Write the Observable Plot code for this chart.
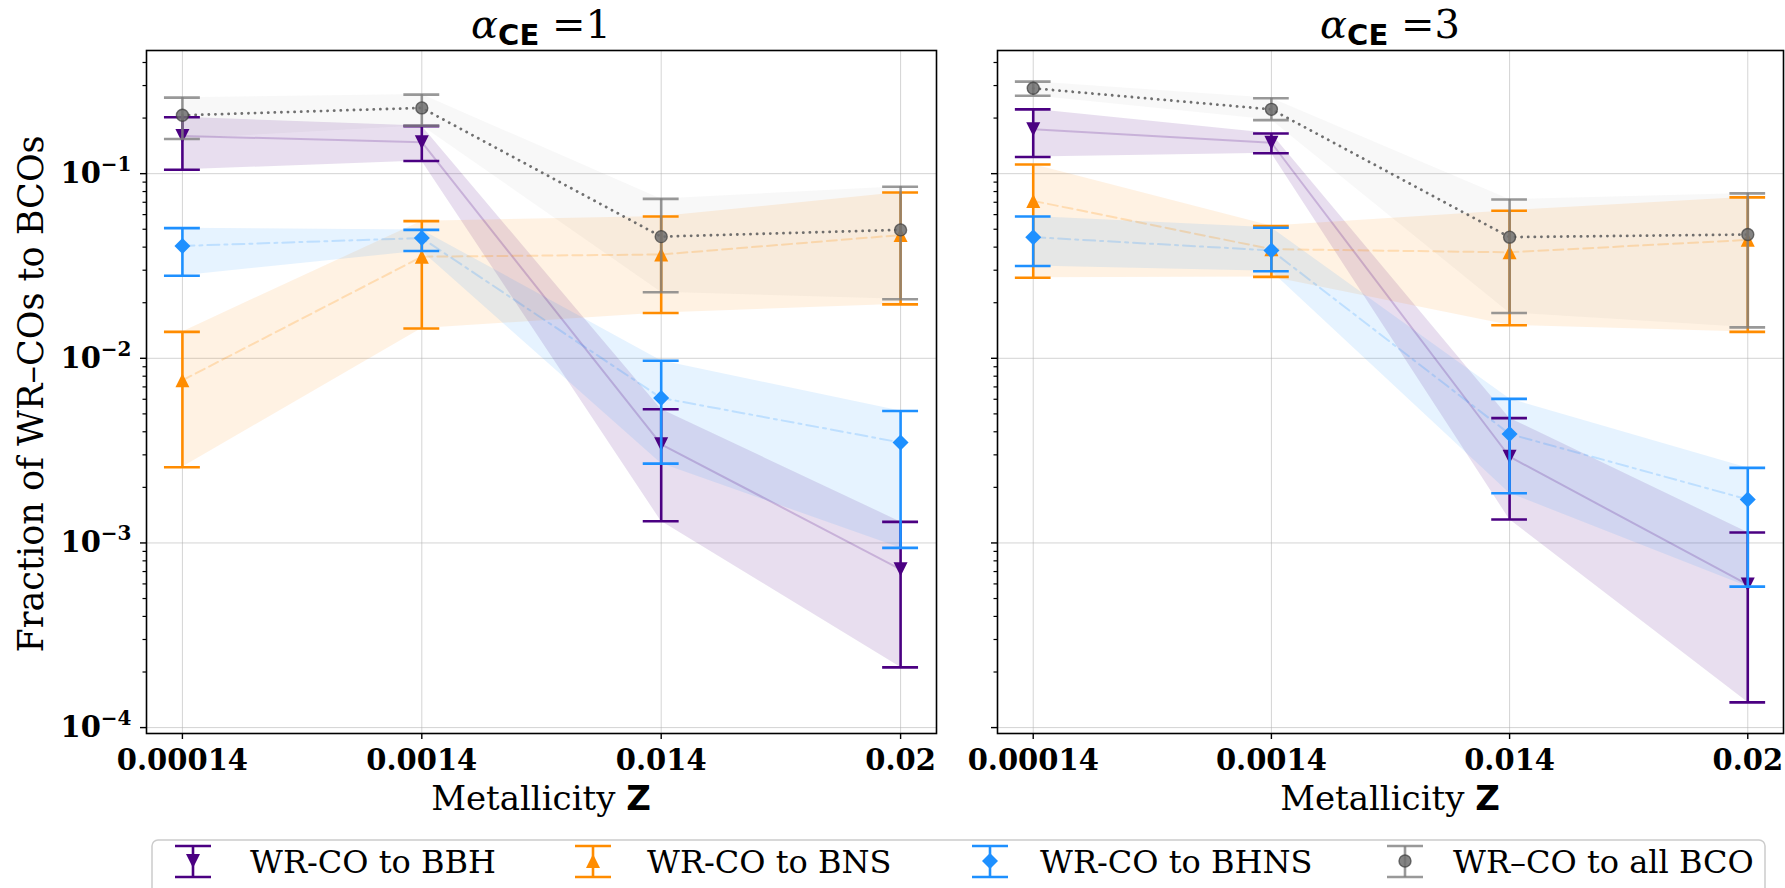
<!DOCTYPE html>
<html>
<head>
<meta charset="utf-8">
<script src="https://cdn.jsdelivr.net/npm/d3@7"></script>
<script src="https://cdn.jsdelivr.net/npm/@observablehq/plot@0.6"></script>
<style>
  html, body { margin: 0; padding: 0; background: #fff; }
  #root { position: relative; width: 1785px; height: 888px; overflow: hidden; background: #fff; }
  .panel { position: absolute; top: 0; }
  #overlay { position: absolute; left: 0; top: 0; }
</style>
</head>
<body>
<div id="root"></div>
<script>
// ---------------- DATA ----------------
const Z_LABELS = ["0.00014", "0.0014", "0.014", "0.02"];
const Y_TICKS = [1e-4, 1e-3, 1e-2, 1e-1];
const PANEL_TITLES = ["1", "3"];   // alpha_CE values
const LEGEND_LABELS = ["WR-CO to BBH", "WR-CO to BNS", "WR-CO to BHNS", "WR\u2013CO to all BCO"];

// alpha_CE = 1
const bbh1   = [0.160, 0.148, 0.00342, 0.00072];
const bbh1Lo = [0.105, 0.117, 0.00131, 0.000212];
const bbh1Hi = [0.202, 0.181, 0.0053, 0.0013];
const bns1   = [0.0076, 0.0355, 0.0365, 0.0465];
const bns1Lo = [0.00257, 0.0145, 0.0176, 0.0196];
const bns1Hi = [0.0139, 0.0553, 0.0586, 0.079];
const bhns1   = [0.0406, 0.0448, 0.0061, 0.0035];
const bhns1Lo = [0.028, 0.0381, 0.00269, 0.00094];
const bhns1Hi = [0.0507, 0.0496, 0.0097, 0.00518];
const all1   = [0.207, 0.227, 0.0456, 0.0496];
const all1Lo = [0.154, 0.182, 0.0228, 0.0209];
const all1Hi = [0.258, 0.268, 0.073, 0.085];

// alpha_CE = 3
const bbh3   = [0.174, 0.147, 0.00293, 0.000595];
const bbh3Lo = [0.123, 0.129, 0.00134, 0.000137];
const bbh3Hi = [0.223, 0.165, 0.00474, 0.00114];
const bns3   = [0.0712, 0.039, 0.0375, 0.0438];
const bns3Lo = [0.0273, 0.0276, 0.0151, 0.0139];
const bns3Hi = [0.112, 0.052, 0.063, 0.0744];
const bhns3   = [0.0453, 0.0384, 0.00389, 0.00172];
const bhns3Lo = [0.0316, 0.0296, 0.00186, 0.00058];
const bhns3Hi = [0.0586, 0.0509, 0.00603, 0.00255];
const all3   = [0.290, 0.223, 0.0453, 0.0468];
const all3Lo = [0.264, 0.195, 0.0176, 0.0147];
const all3Hi = [0.315, 0.256, 0.0724, 0.0782];

// ---------------- STYLE ----------------
const C_BBH = "#4B0082", C_BNS = "#FF8C00", C_BHNS = "#1E90FF", C_ALL = "#808080";
const Y_DOMAIN = [Math.pow(10, -4.032), Math.pow(10, -0.333)];
const X_DOMAIN = [-0.15, 3.15];
const CAP = 0.075;

const rows = (mid, lo, hi) => Z_LABELS.map((z, i) => ({i, z, mid: mid[i], lo: lo[i], hi: hi[i]}));

// custom marker symbols (matplotlib-like)
const triDown = {draw(ctx, size) { const w = 2 * Math.sqrt(size / Math.PI); const h = w; ctx.moveTo(-w/2, -h/2); ctx.lineTo(w/2, -h/2); ctx.lineTo(0, h/2); ctx.closePath(); }};
const triUp = {draw(ctx, size) { const w = 2 * Math.sqrt(size / Math.PI); const h = w; ctx.moveTo(-w/2, h/2); ctx.lineTo(w/2, h/2); ctx.lineTo(0, -h/2); ctx.closePath(); }};
const diamond = {draw(ctx, size) { const r = Math.sqrt(size / Math.PI); ctx.moveTo(0, -r); ctx.lineTo(r, 0); ctx.lineTo(0, r); ctx.lineTo(-r, 0); ctx.closePath(); }};

// minor ticks on the log axis
const MINOR = [];
for (let e = -5; e <= 0; e++) for (let m = 2; m <= 9; m++) {
  const v = m * Math.pow(10, e);
  if (v >= Y_DOMAIN[0] && v <= Y_DOMAIN[1]) MINOR.push(v);
}

function errorMarks(data, color, symbol, r, extra = {}) {
  const op = extra.opacity ?? 1;
  return [
    Plot.ruleX(data, {x: "i", y1: "lo", y2: "hi", stroke: color, strokeWidth: 2.6, strokeOpacity: op}),
    Plot.ruleY(data, {y: "lo", x1: d => d.i - CAP, x2: d => d.i + CAP, stroke: color, strokeWidth: 2.6, strokeOpacity: op}),
    Plot.ruleY(data, {y: "hi", x1: d => d.i - CAP, x2: d => d.i + CAP, stroke: color, strokeWidth: 2.6, strokeOpacity: op}),
    Plot.dot(data, {x: "i", y: "mid", symbol, r, fill: extra.fill ?? color, fillOpacity: extra.fillOpacity ?? 1,
      stroke: extra.stroke ?? "none", strokeWidth: extra.strokeWidth ?? 0, strokeOpacity: extra.strokeOpacity ?? 1})
  ];
}

function makePanel(S, showYLabels, width, marginLeft, marginRight) {
  const bbh = rows(...S.bbh), bns = rows(...S.bns), bhns = rows(...S.bhns), all = rows(...S.all);
  const plot = Plot.plot({
    width, height: 840,
    marginTop: 50, marginBottom: 107, marginLeft, marginRight,
    style: {fontFamily: "DejaVu Serif", fontSize: "29px", fontWeight: "bold", background: "transparent", overflow: "visible", color: "black"},
    x: {domain: X_DOMAIN},
    y: {type: "log", domain: Y_DOMAIN},
    marks: [
      Plot.gridX({ticks: [0, 1, 2, 3], stroke: "#b0b0b0", strokeOpacity: 0.55, strokeWidth: 1}),
      Plot.gridY({ticks: Y_TICKS, stroke: "#b0b0b0", strokeOpacity: 0.55, strokeWidth: 1}),
      // shaded bands
      Plot.areaY(all, {x: "i", y1: "lo", y2: "hi", fill: C_ALL, fillOpacity: 0.06}),
      Plot.areaY(bbh, {x: "i", y1: "lo", y2: "hi", fill: C_BBH, fillOpacity: 0.13}),
      Plot.areaY(bns, {x: "i", y1: "lo", y2: "hi", fill: C_BNS, fillOpacity: 0.11}),
      Plot.areaY(bhns, {x: "i", y1: "lo", y2: "hi", fill: C_BHNS, fillOpacity: 0.11}),
      // central lines
      Plot.lineY(bbh, {x: "i", y: "mid", stroke: C_BBH, strokeOpacity: 0.2, strokeWidth: 2}),
      Plot.lineY(bns, {x: "i", y: "mid", stroke: C_BNS, strokeOpacity: 0.22, strokeWidth: 2, strokeDasharray: "10,5"}),
      Plot.lineY(bhns, {x: "i", y: "mid", stroke: C_BHNS, strokeOpacity: 0.2, strokeWidth: 2, strokeDasharray: "12,5,3,5"}),
      Plot.lineY(all, {x: "i", y: "mid", stroke: "#606060", strokeOpacity: 0.9, strokeWidth: 2.8, strokeDasharray: "0.1,6.5", strokeLinecap: "round"}),
      // error bars + markers
      ...errorMarks(bbh, C_BBH, triDown, 7),
      ...errorMarks(bns, C_BNS, triUp, 7),
      ...errorMarks(bhns, C_BHNS, diamond, 8),
      ...errorMarks(all, C_ALL, "circle", 6, {opacity: 0.8, fill: "#6e6e6e", fillOpacity: 0.85, stroke: "#3c3c3c", strokeWidth: 1.4, strokeOpacity: 0.7}),
      // frame and axes
      Plot.frame({stroke: "black", strokeWidth: 1.6}),
      Plot.axisX({ticks: [0, 1, 2, 3], tickFormat: i => Z_LABELS[i], tickSize: 6, tickPadding: 10, label: null, strokeWidth: 1.4}),
      Plot.axisY({ticks: MINOR, tickFormat: () => "", tickSize: 3.5, label: null, strokeWidth: 1.2}),
      Plot.axisY({ticks: Y_TICKS, tickFormat: showYLabels ? (d => String(Math.round(Math.log10(d)))) : (() => ""), tickSize: 6, tickPadding: 9, label: null, strokeWidth: 1.4})
    ]
  });
  // superscript exponents on y tick labels
  plot.querySelectorAll('g[aria-label="y-axis tick label"] text').forEach(t => {
    const s = t.textContent;
    if (/^-?\d+$/.test(s)) {
      t.textContent = "10";
      const ts = document.createElementNS("http://www.w3.org/2000/svg", "tspan");
      ts.setAttribute("dy", "-12");
      ts.setAttribute("font-size", "20px");
      ts.textContent = s.replace("-", "\u2212");
      t.appendChild(ts);
    }
  });
  return plot;
}

const root = document.getElementById("root");

const p1 = makePanel({bbh: [bbh1, bbh1Lo, bbh1Hi], bns: [bns1, bns1Lo, bns1Hi], bhns: [bhns1, bhns1Lo, bhns1Hi], all: [all1, all1Lo, all1Hi]}, true, 950, 146, 14);
p1.classList.add("panel"); p1.style.left = "0px";
root.appendChild(p1);

const p2 = makePanel({bbh: [bbh3, bbh3Lo, bbh3Hi], bns: [bns3, bns3Lo, bns3Hi], bhns: [bhns3, bhns3Lo, bhns3Hi], all: [all3, all3Lo, all3Hi]}, false, 835, 47, 2);
p2.classList.add("panel"); p2.style.left = "950px";
root.appendChild(p2);

// ---------------- TEXT OVERLAY: titles, axis labels, legend ----------------
const centers = [541, 1390];
let ov = `<svg id="overlay" width="1785" height="888" xmlns="http://www.w3.org/2000/svg" style="pointer-events:none">`;
PANEL_TITLES.forEach((v, k) => {
  ov += `<text x="${centers[k]}" y="38" text-anchor="middle" font-family="DejaVu Serif" font-size="40" fill="black"><tspan font-style="italic">\u03b1</tspan><tspan font-family="DejaVu Sans" font-weight="bold" font-size="29" dy="7">CE</tspan><tspan dy="-7"> =${v}</tspan></text>`;
  ov += `<text x="${centers[k]}" y="810" text-anchor="middle" font-family="DejaVu Serif" font-size="34" fill="black">Metallicity <tspan font-family="DejaVu Sans" font-weight="bold">Z</tspan></text>`;
});
ov += `<text transform="translate(43,394) rotate(-90)" text-anchor="middle" font-family="DejaVu Serif" font-size="35" fill="black">Fraction of WR\u2013COs to BCOs</text>`;
// legend
ov += `<rect x="152" y="840" width="1613" height="70" rx="6" fill="white" stroke="#cccccc" stroke-width="1.5"/>`;
const legCols = [C_BBH, C_BNS, C_BHNS, C_ALL];
const iconX = [193, 593, 990, 1405];
const textX = [250, 647, 1040, 1453];
LEGEND_LABELS.forEach((lab, k) => {
  const cx = iconX[k], col = legCols[k];
  const op = k === 3 ? 0.8 : 1;
  ov += `<g stroke="${col}" stroke-width="2.6" stroke-opacity="${op}"><line x1="${cx}" x2="${cx}" y1="846" y2="877"/><line x1="${cx-18}" x2="${cx+18}" y1="846" y2="846"/><line x1="${cx-18}" x2="${cx+18}" y1="877" y2="877"/></g>`;
  if (k === 0) ov += `<path d="M${cx-7},${861-7}L${cx+7},${861-7}L${cx},${861+7}Z" fill="${col}"/>`;
  if (k === 1) ov += `<path d="M${cx-7},${861+7}L${cx+7},${861+7}L${cx},${861-7}Z" fill="${col}"/>`;
  if (k === 2) ov += `<path d="M${cx},${861-8}L${cx+8},861L${cx},${861+8}L${cx-8},861Z" fill="${col}"/>`;
  if (k === 3) ov += `<circle cx="${cx}" cy="861" r="6" fill="#6e6e6e" fill-opacity="0.85" stroke="#3c3c3c" stroke-opacity="0.7" stroke-width="1.4"/>`;
  ov += `<text x="${textX[k]}" y="873" font-family="DejaVu Serif" font-size="32" fill="black">${lab}</text>`;
});
ov += `</svg>`;
root.insertAdjacentHTML("beforeend", ov);
</script>
</body>
</html>
